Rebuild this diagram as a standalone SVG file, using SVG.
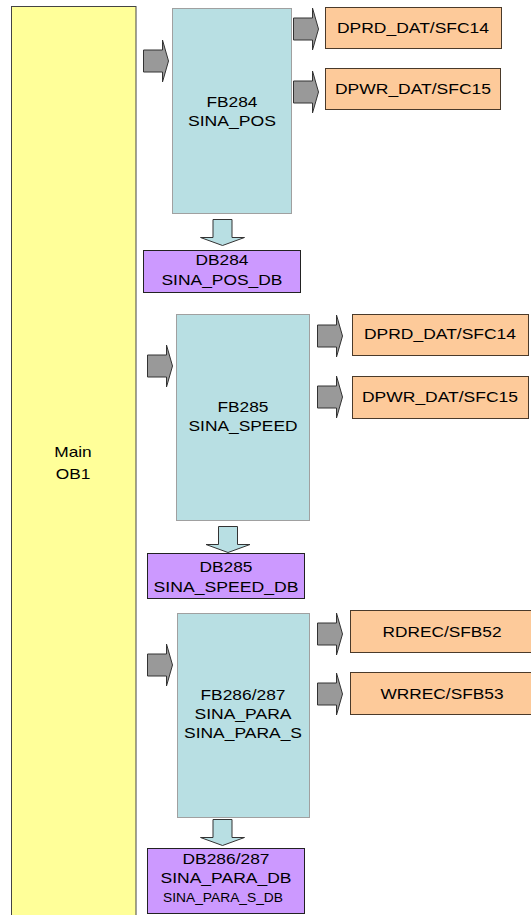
<svg xmlns="http://www.w3.org/2000/svg" width="531" height="915" viewBox="0 0 531 915">
<style>
text{font-family:"Liberation Sans",Arial,sans-serif;font-size:15px;fill:#000;text-anchor:middle}
.main{fill:#ffff99;stroke:#444;stroke-width:1}
.fb{fill:#b8dfe3;stroke:#a0a0a0;stroke-width:1}
.sfc{fill:#fdca9a;stroke:#4a3a2a;stroke-width:1}
.db{fill:#cc99ff;stroke:#222;stroke-width:1}
.ga{fill:#999999;stroke:#333;stroke-width:1}
.da{fill:#b8dfe3;stroke:#333;stroke-width:1}
.small{font-size:12px}
</style>
<defs>
<path id="ra" d="M0,-11 H19 V-21 L25,0 L19,21 V11 H0 Z"/>
<path id="da" d="M-9.5,0 H9.5 V18 H22 L0,26 L-22,18 H-9.5 Z"/>
</defs>
<g id="main">
<rect class="main" x="11.5" y="6.5" width="124.5" height="915"/>
<text x="73" y="457" textLength="37.5" lengthAdjust="spacingAndGlyphs">Main</text>
<text x="73" y="479" textLength="34.6" lengthAdjust="spacingAndGlyphs">OB1</text>
</g>
<g id="fb284">
<rect class="fb" x="172.5" y="8.5" width="119" height="205"/>
<text x="232" y="107" textLength="51" lengthAdjust="spacingAndGlyphs">FB284</text>
<text x="232" y="126" textLength="88" lengthAdjust="spacingAndGlyphs">SINA_POS</text>
</g>
<g id="sfc14a">
<rect class="sfc" x="325.5" y="7.5" width="176" height="41"/>
<text x="413" y="33" textLength="152" lengthAdjust="spacingAndGlyphs">DPRD_DAT/SFC14</text>
</g>
<g id="sfc15a">
<rect class="sfc" x="325.5" y="68.5" width="175" height="41"/>
<text x="413" y="94" textLength="156" lengthAdjust="spacingAndGlyphs">DPWR_DAT/SFC15</text>
</g>
<g id="db284">
<rect class="db" x="143.5" y="250.5" width="157" height="42"/>
<text x="222" y="265" textLength="53" lengthAdjust="spacingAndGlyphs">DB284</text>
<text x="222" y="285" textLength="121" lengthAdjust="spacingAndGlyphs">SINA_POS_DB</text>
</g>
<g id="fb285">
<rect class="fb" x="176.5" y="314.5" width="133" height="206"/>
<text x="243" y="412" textLength="51" lengthAdjust="spacingAndGlyphs">FB285</text>
<text x="243" y="431" textLength="109" lengthAdjust="spacingAndGlyphs">SINA_SPEED</text>
</g>
<g id="sfc14b">
<rect class="sfc" x="352.5" y="314.5" width="176" height="41"/>
<text x="440" y="339" textLength="152" lengthAdjust="spacingAndGlyphs">DPRD_DAT/SFC14</text>
</g>
<g id="sfc15b">
<rect class="sfc" x="352.5" y="376.5" width="176" height="42"/>
<text x="440" y="402" textLength="156" lengthAdjust="spacingAndGlyphs">DPWR_DAT/SFC15</text>
</g>
<g id="db285">
<rect class="db" x="147.5" y="553.5" width="157" height="45"/>
<text x="226" y="572" textLength="53" lengthAdjust="spacingAndGlyphs">DB285</text>
<text x="226" y="592" textLength="145" lengthAdjust="spacingAndGlyphs">SINA_SPEED_DB</text>
</g>
<g id="fb286">
<rect class="fb" x="177.5" y="613.5" width="132" height="204"/>
<text x="243" y="700" textLength="85" lengthAdjust="spacingAndGlyphs">FB286/287</text>
<text x="243" y="719" textLength="97" lengthAdjust="spacingAndGlyphs">SINA_PARA</text>
<text x="243" y="738" textLength="118" lengthAdjust="spacingAndGlyphs">SINA_PARA_S</text>
</g>
<g id="sfb52">
<rect class="sfc" x="350.5" y="610.5" width="185" height="42"/>
<text x="442" y="637" textLength="119" lengthAdjust="spacingAndGlyphs">RDREC/SFB52</text>
</g>
<g id="sfb53">
<rect class="sfc" x="350.5" y="672.5" width="185" height="42"/>
<text x="442" y="699" textLength="123" lengthAdjust="spacingAndGlyphs">WRREC/SFB53</text>
</g>
<g id="db286">
<rect class="db" x="147.5" y="848.5" width="157" height="65"/>
<text x="226" y="864" textLength="87" lengthAdjust="spacingAndGlyphs">DB286/287</text>
<text x="226" y="883" textLength="131" lengthAdjust="spacingAndGlyphs">SINA_PARA_DB</text>
<text class="small" x="223" y="902" textLength="120" lengthAdjust="spacingAndGlyphs">SINA_PARA_S_DB</text>
</g>
<g id="connectors">
<use href="#ra" class="ga" transform="translate(143.5,61)"/>
<use href="#ra" class="ga" transform="translate(293.5,29)"/>
<use href="#ra" class="ga" transform="translate(293.5,92)"/>
<use href="#ra" class="ga" transform="translate(147.5,366)"/>
<use href="#ra" class="ga" transform="translate(317.5,336)"/>
<use href="#ra" class="ga" transform="translate(317.5,397)"/>
<use href="#ra" class="ga" transform="translate(147.5,665)"/>
<use href="#ra" class="ga" transform="translate(317.5,634)"/>
<use href="#ra" class="ga" transform="translate(317.5,694)"/>
<use href="#da" class="da" transform="translate(222.5,219.5)"/>
<use href="#da" class="da" transform="translate(228,526.5)"/>
<use href="#da" class="da" transform="translate(222.5,819.5)"/>
</g>
</svg>
